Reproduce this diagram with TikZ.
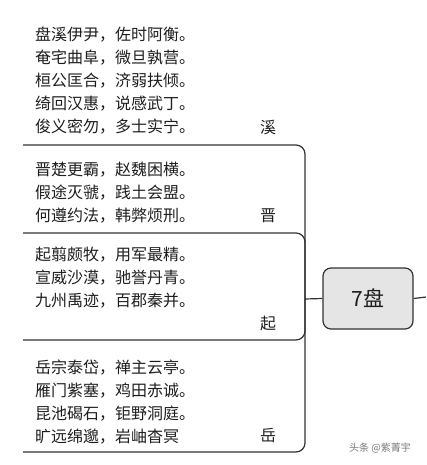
\documentclass[tikz,border=0pt]{standalone}
\usepackage{fontspec}
\setmainfont{Noto Sans CJK SC}
\usetikzlibrary{positioning}
\definecolor{traitFonce}{RGB}{50, 50, 50}
\definecolor{texteFonce}{RGB}{30, 30, 30}
\definecolor{fondGris}{RGB}{229, 229, 229}
\definecolor{texteGris}{RGB}{120, 120, 120}

\begin{document}
\begin{tikzpicture}[x=1pt, y=-1pt,
  verse/.style={anchor=north west, align=left, inner sep=0pt,
    text=texteFonce, font=\fontsize{16}{23}\selectfont},
  tag/.style={anchor=base, inner sep=0pt, text=texteFonce,
    font=\fontsize{16}{23}\selectfont},
  hub/.style={rectangle, rounded corners=8pt, draw=traitFonce,
    fill=fondGris, line width=1.2pt, minimum width=90pt,
    minimum height=61pt, text=texteFonce, font=\fontsize{21}{25}\selectfont},
  branch/.style={draw=traitFonce, line width=1.2pt, rounded corners=9pt},
]
\useasboundingbox (0,0) rectangle (426,465);
\node[hub] (pan) at (368, 298.5) {7盘};
\coordinate (fork) at (305, 299);
\coordinate (sortie) at (426, 297);
% groupes de vers
\node[verse] (xiText)  at (35, 27)
  {盘溪伊尹，佐时阿衡。\\奄宅曲阜，微旦孰营。\\桓公匡合，济弱扶倾。\\绮回汉惠，说感武丁。\\俊义密勿，多士实宁。};
\node[verse] (jinText) at (35, 162)
  {晋楚更霸，赵魏困横。\\假途灭虢，践土会盟。\\何遵约法，韩弊烦刑。};
\node[verse] (qiText)  at (35, 247)
  {起翦颇牧，用军最精。\\宣威沙漠，驰誉丹青。\\九州禹迹，百郡秦并。};
\node[verse] (yueText) at (35, 360)
  {岳宗泰岱，禅主云亭。\\雁门紫塞，鸡田赤诚。\\昆池碣石，钜野洞庭。\\旷远绵邈，岩岫杳冥};
\node[tag] (xi)  at (268, 134) {溪};
\node[tag] (jin) at (268, 221) {晋};
\node[tag] (qi)  at (268, 329) {起};
\node[tag] (yue) at (268, 441) {岳};
\coordinate (xiEnd)  at (23, 145);
\coordinate (jinEnd) at (23, 233);
\coordinate (qiEnd)  at (23, 340);
\coordinate (yueEnd) at (23, 452);
\foreach \b in {xiEnd, jinEnd, qiEnd, yueEnd}
  \draw[branch] (fork) |- (\b);
\draw[branch] (pan.west) -- (fork);
\draw[branch] (pan.east) -- (sortie);
\node[text=texteGris, font=\fontsize{10}{12}\selectfont] (marque)
  at (380, 448) {头条 @紫菁宇};
\end{tikzpicture}
\end{document}
